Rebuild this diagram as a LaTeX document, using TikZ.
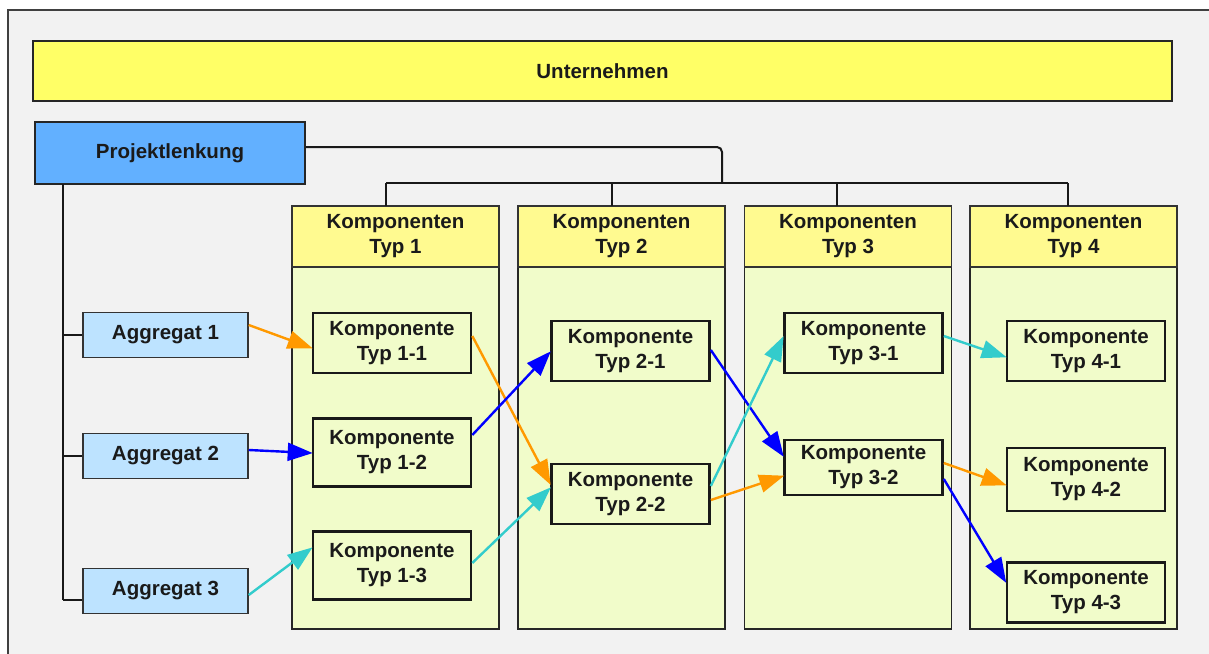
\documentclass[tikz,border=0pt]{standalone}
\usepackage{fontspec}
\setmainfont{Liberation Sans}
\usetikzlibrary{arrows.meta}
\definecolor{bgray}{HTML}{F2F2F2}
\definecolor{uyellow}{HTML}{FFFF66}
\definecolor{pblue}{HTML}{62B0FF}
\definecolor{ablue}{HTML}{BDE3FF}
\definecolor{hyellow}{HTML}{FFFA90}
\definecolor{cgreen}{HTML}{F1FCCA}
\definecolor{aorange}{HTML}{FF9900}
\definecolor{ablu}{HTML}{0000FF}
\definecolor{acyan}{HTML}{33CCCC}
\definecolor{txt}{HTML}{1A1A1A}
\tikzset{
  every node/.style={font=\fontsize{20.5}{25}\selectfont\bfseries, text=txt},
  topbox/.style={draw=black!85, line width=1.2pt, fill=uyellow, minimum width=1139pt, minimum height=60pt, inner sep=0pt},
  projbox/.style={draw=black!85, line width=1.5pt, fill=pblue, minimum width=270pt, minimum height=62pt, inner sep=0pt},
  aggbox/.style={draw=black!80, line width=1.5pt, fill=ablue, minimum width=165pt, minimum height=45pt, inner sep=0pt},
  colhead/.style={draw=black!80, line width=1.3pt, fill=hyellow, minimum width=207pt, minimum height=61pt, inner sep=0pt, align=center},
  colbody/.style={draw=black!85, line width=1.3pt, fill=cgreen, minimum width=207pt, minimum height=362pt, inner sep=0pt},
  kbox/.style={draw=black!90, line width=2.6pt, fill=cgreen, minimum width=158pt, minimum height=60pt, inner sep=0pt, align=center},
  tree/.style={draw=black!90, line width=2pt},
  arr/.style={line width=2.4pt, -{Triangle[length=25pt,width=18pt]}, shorten >=-1pt},
  ora/.style={arr, draw=aorange, fill=aorange},
  blu/.style={arr, draw=ablu, fill=ablu},
  cya/.style={arr, draw=acyan, fill=acyan}
}
\begin{document}
\begin{tikzpicture}[x=1pt,y=-1pt]
\useasboundingbox (0,0) rectangle (1209,653);
\fill[white] (0,0) rectangle (1209,653);
\draw[black!75, line width=1.5pt, fill=bgray] (8,10) rectangle (1230,680);

\node[topbox] (unt) at (602.5,71) {Unternehmen};
\node[projbox] (proj) at (170,153) {Projektlenkung};

% columns
\node[colbody] (c1b) at (395.5,448) {};
\node[colbody] (c2b) at (621.5,448) {};
\node[colbody] (c3b) at (848,448) {};
\node[colbody] (c4b) at (1073.5,448) {};
\node[colhead] (c1) at (395.5,236.5) {Komponenten\\Typ 1};
\node[colhead] (c2) at (621.5,236.5) {Komponenten\\Typ 2};
\node[colhead] (c3) at (848,236.5) {Komponenten\\Typ 3};
\node[colhead] (c4) at (1073.5,236.5) {Komponenten\\Typ 4};

% tree lines
\coordinate (bus) at (722,183);
\draw[tree, rounded corners=5pt] (proj.east |- 0,147) -- (722,147) -- (bus);
\draw[tree] (386,183) -- (1068,183);
\draw[tree] (386,183) -- (386,206);
\draw[tree] (612,183) -- (612,206);
\draw[tree] (837,183) -- (837,206);
\draw[tree] (1068,183) -- (1068,206);

% aggregates
\node[aggbox] (a1) at (165.5,335) {Aggregat 1};
\node[aggbox] (a2) at (165.5,456) {Aggregat 2};
\node[aggbox] (a3) at (165.5,591) {Aggregat 3};
\draw[tree] (63,184) -- (63,600);
\draw[tree] (63,335) -- (a1.west);
\draw[tree] (63,456) -- (a2.west);
\draw[tree] (63,600) -- (a3.west |- 0,600);

% components
\node[kbox] (k11) at (392,343) {Komponente\\Typ 1-1};
\node[kbox, minimum height=68pt] (k12) at (392,452.5) {Komponente\\Typ 1-2};
\node[kbox, minimum height=68pt] (k13) at (392,565.5) {Komponente\\Typ 1-3};
\node[kbox] (k21) at (630.5,351) {Komponente\\Typ 2-1};
\node[kbox] (k22) at (630.5,494) {Komponente\\Typ 2-2};
\node[kbox] (k31) at (863.5,343) {Komponente\\Typ 3-1};
\node[kbox, minimum height=55pt] (k32) at (863.5,467.5) {Komponente\\Typ 3-2};
\node[kbox] (k41) at (1086,351) {Komponente\\Typ 4-1};
\node[kbox, minimum height=63pt] (k42) at (1086,479.5) {Komponente\\Typ 4-2};
\node[kbox] (k43) at (1086,592.5) {Komponente\\Typ 4-3};

% arrows
\draw[ora] (a1.east |- 0,325) -- (k11.west |- 0,348);
\draw[blu] (a2.east |- 0,450) -- (k12.west |- 0,453);
\draw[cya] (a3.east |- 0,595) -- (k13.west |- 0,548);

\draw[ora] (k11.east |- 0,336) -- (k22.west |- 0,484);
\draw[blu] (k12.east |- 0,435) -- (k21.west |- 0,352);
\draw[cya] (k13.east |- 0,563) -- (k22.west |- 0,488);

\draw[blu] (k21.east |- 0,350) -- (k32.west |- 0,456);
\draw[cya] (k22.east |- 0,486) -- (k31.west |- 0,337);
\draw[ora] (k22.east |- 0,500) -- (k32.west |- 0,476);

\draw[cya] (k31.east |- 0,336) -- (k41.west |- 0,357);
\draw[ora] (k32.east |- 0,463) -- (k42.west |- 0,485);
\draw[blu] (k32.east |- 0,479) -- (k43.west |- 0,582);
\end{tikzpicture}
\end{document}
